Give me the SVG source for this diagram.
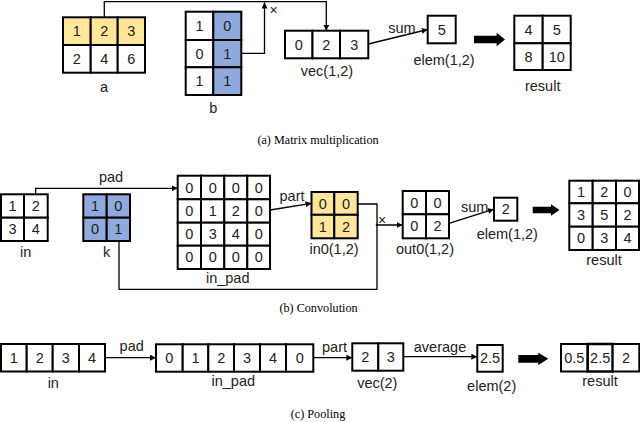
<svg xmlns="http://www.w3.org/2000/svg" width="640" height="422" viewBox="0 0 640 422">
<defs>
<style>
.cell{fill:#fff;stroke:#000;stroke-width:2}
.y{fill:#FFE699}
.b{fill:#8FAADC}
.t{font-family:"Liberation Sans",Arial,sans-serif;font-size:14.5px;fill:#222;text-anchor:middle}
.x{font-family:"Liberation Sans",Arial,sans-serif;font-size:14px;fill:#222;text-anchor:middle}
.cap{font-family:"Liberation Serif","Times New Roman",serif;font-size:12.2px;fill:#000;text-anchor:middle}
.c{fill:none;stroke:#000;stroke-width:1.3}
.big{fill:#000;stroke:none}
</style>
<marker id="ah" markerUnits="userSpaceOnUse" markerWidth="7" markerHeight="6" refX="6" refY="3" orient="auto">
<path d="M0,0 L6,3 L0,6 z" fill="#000"/>
</marker>
</defs>
<rect width="640" height="422" fill="#fff"/>

<!-- connectors -->
<g id="connectors">
<polyline class="c" points="104.3,17.3 104.3,1.7 326.3,1.7 326.3,30.7" marker-end="url(#ah)"/>
<polyline class="c" points="241.3,53.3 264.5,53.3 264.5,2.5" marker-end="url(#ah)"/>
<line class="c" x1="368.3" y1="44" x2="427.7" y2="29.5" marker-end="url(#ah)"/>
<polygon class="big" points="474,35.7 496.7,35.7 496.7,32.7 505,39.5 496.7,46.3 496.7,43.3 474,43.3"/>

<polyline class="c" points="35.7,194.3 35.7,188.3 177.7,188.3" marker-end="url(#ah)"/>
<line class="c" x1="270" y1="210" x2="311.5" y2="203.3" marker-end="url(#ah)"/>
<polyline class="c" points="357.7,204 377,204 377,225 402.7,225" marker-end="url(#ah)"/>
<polyline class="c" points="119,241 119,289.3 377,289.3 377,225"/>
<circle cx="377" cy="225" r="1.3" fill="#000"/>
<line class="c" x1="449" y1="223.3" x2="494" y2="209.2" marker-end="url(#ah)"/>
<polygon class="big" points="532.7,206.7 551,206.7 551,204.3 559.5,210 551,215.7 551,213.3 532.7,213.3"/>

<line class="c" x1="105" y1="357.7" x2="156" y2="357.7" marker-end="url(#ah)"/>
<line class="c" x1="313.3" y1="357.7" x2="352.3" y2="357.7" marker-end="url(#ah)"/>
<line class="c" x1="403.3" y1="356.7" x2="477.3" y2="356.7" marker-end="url(#ah)"/>
<polygon class="big" points="518.3,355 538.3,355 538.3,352.7 548.3,358.8 538.3,365 538.3,362.7 518.3,362.7"/>

<text class="x" x="273.5" y="14.5">×</text>
<text class="t" x="402" y="32.5">sum</text>
<text class="t" x="111" y="182">pad</text>
<text class="t" x="292" y="201">part</text>
<text class="x" x="382" y="224.5">×</text>
<text class="t" x="474.7" y="211.7">sum</text>
<text class="t" x="131.7" y="350.7">pad</text>
<text class="t" x="334.5" y="352">part</text>
<text class="t" x="440" y="352">average</text>
</g>

<!-- (a) -->
<g id="a">
<rect class="cell y" x="63" y="17.3" width="27.7" height="27.7"/>
<rect class="cell y" x="90.7" y="17.3" width="27" height="27.7"/>
<rect class="cell y" x="117.7" y="17.3" width="27.3" height="27.7"/>
<rect class="cell" x="63" y="45" width="27.7" height="27.7"/>
<rect class="cell" x="90.7" y="45" width="27" height="27.7"/>
<rect class="cell" x="117.7" y="45" width="27.3" height="27.7"/>
<text class="t" x="76.8" y="36.3">1</text><text class="t" x="104.2" y="36.3">2</text><text class="t" x="131.3" y="36.3">3</text>
<text class="t" x="76.8" y="64">2</text><text class="t" x="104.2" y="64">4</text><text class="t" x="131.3" y="64">6</text>
<text class="t" x="104" y="91.7">a</text>
</g>
<g id="b">
<rect class="cell" x="185.7" y="11.7" width="27.6" height="28.3"/>
<rect class="cell b" x="213.3" y="11.7" width="28" height="28.3"/>
<rect class="cell" x="185.7" y="40" width="27.6" height="27.3"/>
<rect class="cell b" x="213.3" y="40" width="28" height="27.3"/>
<rect class="cell" x="185.7" y="67.3" width="27.6" height="27.7"/>
<rect class="cell b" x="213.3" y="67.3" width="28" height="27.7"/>
<text class="t" x="199.5" y="31">1</text><text class="t" x="227.3" y="31">0</text>
<text class="t" x="199.5" y="58.8">0</text><text class="t" x="227.3" y="58.8">1</text>
<text class="t" x="199.5" y="86.3">1</text><text class="t" x="227.3" y="86.3">1</text>
<text class="t" x="213.3" y="113">b</text>
</g>
<g id="vec12">
<rect class="cell" x="285" y="30.7" width="27.5" height="27.6"/>
<rect class="cell" x="312.5" y="30.7" width="27.5" height="27.6"/>
<rect class="cell" x="340" y="30.7" width="28.3" height="27.6"/>
<text class="t" x="298.8" y="49.5">0</text><text class="t" x="326.3" y="49.5">2</text><text class="t" x="354.2" y="49.5">3</text>
<text class="t" x="327" y="75.5">vec(1,2)</text>
</g>
<g id="elem12a">
<rect class="cell" x="427.7" y="15.7" width="28" height="27.6"/>
<text class="t" x="441.7" y="34.5">5</text>
<text class="t" x="444" y="65">elem(1,2)</text>
</g>
<g id="resulta">
<rect class="cell" x="514.3" y="15.7" width="28.4" height="27.6"/>
<rect class="cell" x="542.7" y="15.7" width="28" height="27.6"/>
<rect class="cell" x="514.3" y="43.3" width="28.4" height="26.7"/>
<rect class="cell" x="542.7" y="43.3" width="28" height="26.7"/>
<text class="t" x="528.5" y="34.5">4</text><text class="t" x="556.7" y="34.5">5</text>
<text class="t" x="528.5" y="61.7">8</text><text class="t" x="556.7" y="61.7">10</text>
<text class="t" x="542.7" y="90.7">result</text>
</g>
<text class="cap" x="318" y="144">(a) Matrix multiplication</text>

<!-- (b) -->
<g id="in_b">
<rect class="cell" x="1" y="194.3" width="23" height="23.4"/>
<rect class="cell" x="24" y="194.3" width="23.7" height="23.4"/>
<rect class="cell" x="1" y="217.7" width="23" height="23.3"/>
<rect class="cell" x="24" y="217.7" width="23.7" height="23.3"/>
<text class="t" x="12.5" y="211">1</text><text class="t" x="35.8" y="211">2</text>
<text class="t" x="12.5" y="234.3">3</text><text class="t" x="35.8" y="234.3">4</text>
<text class="t" x="25.7" y="256.7">in</text>
</g>
<g id="k">
<rect class="cell b" x="83.3" y="194.3" width="23.4" height="23.4"/>
<rect class="cell b" x="106.7" y="194.3" width="23.3" height="23.4"/>
<rect class="cell b" x="83.3" y="217.7" width="23.4" height="23.3"/>
<rect class="cell b" x="106.7" y="217.7" width="23.3" height="23.3"/>
<text class="t" x="95" y="211">1</text><text class="t" x="118.3" y="211">0</text>
<text class="t" x="95" y="234.3">0</text><text class="t" x="118.3" y="234.3">1</text>
<text class="t" x="106.7" y="256.7">k</text>
</g>
<g id="in_pad_b">
<rect class="cell" x="177.7" y="175.7" width="23.3" height="23.6"/><rect class="cell" x="201" y="175.7" width="23.3" height="23.6"/><rect class="cell" x="224.3" y="175.7" width="23" height="23.6"/><rect class="cell" x="247.3" y="175.7" width="22.7" height="23.6"/>
<rect class="cell" x="177.7" y="199.3" width="23.3" height="23.4"/><rect class="cell" x="201" y="199.3" width="23.3" height="23.4"/><rect class="cell" x="224.3" y="199.3" width="23" height="23.4"/><rect class="cell" x="247.3" y="199.3" width="22.7" height="23.4"/>
<rect class="cell" x="177.7" y="222.7" width="23.3" height="23"/><rect class="cell" x="201" y="222.7" width="23.3" height="23"/><rect class="cell" x="224.3" y="222.7" width="23" height="23"/><rect class="cell" x="247.3" y="222.7" width="22.7" height="23"/>
<rect class="cell" x="177.7" y="245.7" width="23.3" height="23.3"/><rect class="cell" x="201" y="245.7" width="23.3" height="23.3"/><rect class="cell" x="224.3" y="245.7" width="23" height="23.3"/><rect class="cell" x="247.3" y="245.7" width="22.7" height="23.3"/>
<text class="t" x="189.3" y="192.5">0</text><text class="t" x="212.7" y="192.5">0</text><text class="t" x="235.8" y="192.5">0</text><text class="t" x="258.7" y="192.5">0</text>
<text class="t" x="189.3" y="216">0</text><text class="t" x="212.7" y="216">1</text><text class="t" x="235.8" y="216">2</text><text class="t" x="258.7" y="216">0</text>
<text class="t" x="189.3" y="239.2">0</text><text class="t" x="212.7" y="239.2">3</text><text class="t" x="235.8" y="239.2">4</text><text class="t" x="258.7" y="239.2">0</text>
<text class="t" x="189.3" y="262.3">0</text><text class="t" x="212.7" y="262.3">0</text><text class="t" x="235.8" y="262.3">0</text><text class="t" x="258.7" y="262.3">0</text>
<text class="t" x="227.7" y="282.7">in_pad</text>
</g>
<g id="in0">
<rect class="cell y" x="311.5" y="192" width="22.8" height="22.8"/>
<rect class="cell y" x="334.3" y="192" width="23.4" height="22.8"/>
<rect class="cell y" x="311.5" y="214.8" width="22.8" height="23.5"/>
<rect class="cell y" x="334.3" y="214.8" width="23.4" height="23.5"/>
<text class="t" x="322.9" y="208.5">0</text><text class="t" x="346" y="208.5">0</text>
<text class="t" x="322.9" y="231.6">1</text><text class="t" x="346" y="231.6">2</text>
<text class="t" x="334" y="254.3">in0(1,2)</text>
</g>
<g id="out0">
<rect class="cell" x="402.7" y="191" width="23.3" height="23.3"/>
<rect class="cell" x="426" y="191" width="23" height="23.3"/>
<rect class="cell" x="402.7" y="214.3" width="23.3" height="24"/>
<rect class="cell" x="426" y="214.3" width="23" height="24"/>
<text class="t" x="414.3" y="207.7">0</text><text class="t" x="437.5" y="207.7">0</text>
<text class="t" x="414.3" y="231.3">0</text><text class="t" x="437.5" y="231.3">2</text>
<text class="t" x="425" y="254.3">out0(1,2)</text>
</g>
<g id="elem12b">
<rect class="cell" x="494" y="197.7" width="23.3" height="23"/>
<text class="t" x="505.7" y="214.2">2</text>
<text class="t" x="507.3" y="238.7">elem(1,2)</text>
</g>
<g id="resultb">
<rect class="cell" x="569.3" y="180.7" width="23.4" height="22.6"/><rect class="cell" x="592.7" y="180.7" width="23.3" height="22.6"/><rect class="cell" x="616" y="180.7" width="23" height="22.6"/>
<rect class="cell" x="569.3" y="203.3" width="23.4" height="23.4"/><rect class="cell" x="592.7" y="203.3" width="23.3" height="23.4"/><rect class="cell" x="616" y="203.3" width="23" height="23.4"/>
<rect class="cell" x="569.3" y="226.7" width="23.4" height="23.3"/><rect class="cell" x="592.7" y="226.7" width="23.3" height="23.3"/><rect class="cell" x="616" y="226.7" width="23" height="23.3"/>
<text class="t" x="581" y="197">1</text><text class="t" x="604.3" y="197">2</text><text class="t" x="627.5" y="197">0</text>
<text class="t" x="581" y="220">3</text><text class="t" x="604.3" y="220">5</text><text class="t" x="627.5" y="220">2</text>
<text class="t" x="581" y="243.3">0</text><text class="t" x="604.3" y="243.3">3</text><text class="t" x="627.5" y="243.3">4</text>
<text class="t" x="604" y="265.3">result</text>
</g>
<text class="cap" x="318.5" y="312">(b) Convolution</text>

<!-- (c) -->
<g id="in_c">
<rect class="cell" x="1" y="344" width="25.7" height="27.5"/><rect class="cell" x="26.7" y="344" width="26" height="27.5"/><rect class="cell" x="52.7" y="344" width="26.3" height="27.5"/><rect class="cell" x="79" y="344" width="26" height="27.5"/>
<text class="t" x="13.8" y="362.8">1</text><text class="t" x="39.7" y="362.8">2</text><text class="t" x="65.8" y="362.8">3</text><text class="t" x="92" y="362.8">4</text>
<text class="t" x="53.3" y="387.7">in</text>
</g>
<g id="in_pad_c">
<rect class="cell" x="156" y="344.3" width="26.7" height="27.4"/><rect class="cell" x="182.7" y="344.3" width="25.6" height="27.4"/><rect class="cell" x="208.3" y="344.3" width="25.7" height="27.4"/><rect class="cell" x="234" y="344.3" width="26" height="27.4"/><rect class="cell" x="260" y="344.3" width="26" height="27.4"/><rect class="cell" x="286" y="344.3" width="27.3" height="27.4"/>
<text class="t" x="169.3" y="363">0</text><text class="t" x="195.5" y="363">1</text><text class="t" x="221.2" y="363">2</text><text class="t" x="247" y="363">3</text><text class="t" x="273" y="363">4</text><text class="t" x="299.7" y="363">0</text>
<text class="t" x="233.3" y="386">in_pad</text>
</g>
<g id="vec2">
<rect class="cell" x="352.3" y="343.3" width="26" height="27.4"/><rect class="cell" x="378.3" y="343.3" width="25" height="27.4"/>
<text class="t" x="365.3" y="362">2</text><text class="t" x="390.8" y="362">3</text>
<text class="t" x="377.3" y="388.3">vec(2)</text>
</g>
<g id="elem2">
<rect class="cell" x="477.3" y="345" width="25.4" height="26.7"/>
<text class="t" x="490" y="363.3">2.5</text>
<text class="t" x="491.7" y="390.7">elem(2)</text>
</g>
<g id="resultc">
<rect class="cell" x="561" y="344" width="26.7" height="27.5"/><rect class="cell" x="587.7" y="344" width="25" height="27.5" style="stroke-width:2.5"/><rect class="cell" x="612.7" y="344" width="26.6" height="27.5"/>
<text class="t" x="574.3" y="362.8">0.5</text><text class="t" x="600.2" y="362.8">2.5</text><text class="t" x="626" y="362.8">2</text>
<text class="t" x="600" y="386">result</text>
</g>
<text class="cap" x="318" y="418">(c) Pooling</text>
</svg>
